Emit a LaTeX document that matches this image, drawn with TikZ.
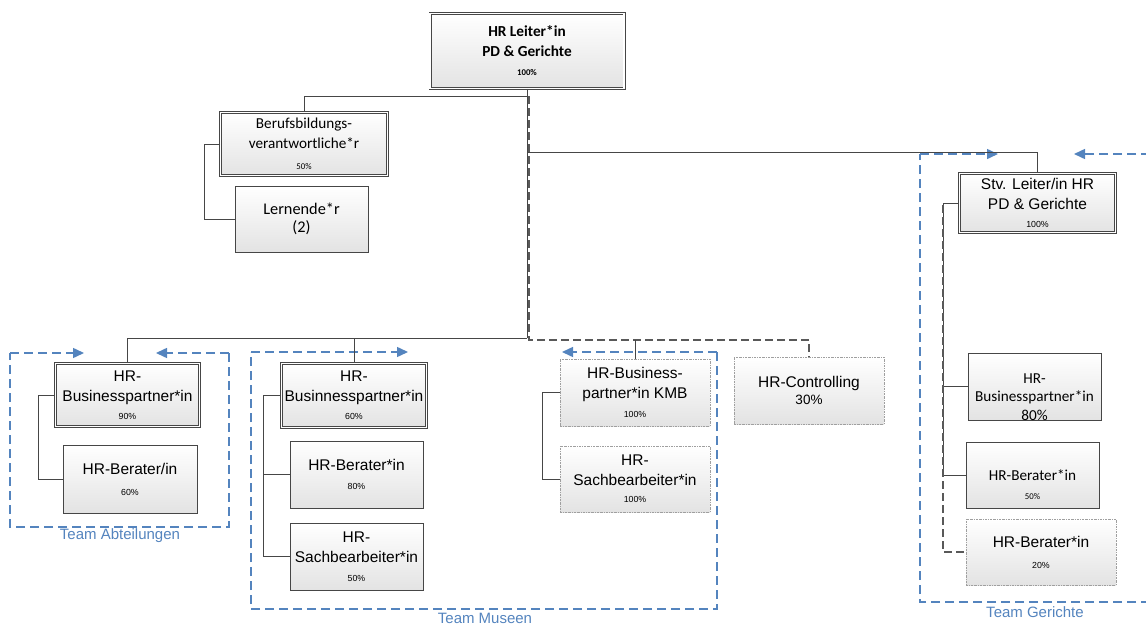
\documentclass[tikz,border=0pt]{standalone}
\usepackage{fontspec}
\setmainfont{Liberation Sans}
\newfontfamily\calfont{Carlito}
\usetikzlibrary{arrows.meta}
\definecolor{teamblue}{RGB}{84,132,190}
\definecolor{linegray}{RGB}{70,70,70}
\newcommand\pctx[1]{{\fontsize{8.8}{9}\selectfont #1}}

\tikzset{
  box/.style={draw=linegray, line width=0.8pt, top color=white, bottom color=black!11,
    align=center, inner sep=0pt, font=\fontsize{15.5}{20}\selectfont},
  dbox/.style={box, double=white, double distance=1.6pt, line width=0.7pt},
  vbox/.style={box, draw=gray!75, line width=0.7pt, dash pattern=on 2pt off 1pt on 0.6pt off 1pt},
  cal/.style={font=\calfont\fontsize{15.2}{20}\selectfont},
  conn/.style={draw=linegray, line width=0.8pt},
  dconn/.style={draw=linegray!90, line width=2pt, dash pattern=on 8pt off 4pt},
  team/.style={draw=teamblue, line width=1.5pt, dash pattern=on 9pt off 5pt},
  teamarr/.style={team, -{Triangle[length=11pt,width=10pt]}},
  teamlbl/.style={text=teamblue, font=\fontsize{15}{16}\selectfont},
  txt/.style={align=center, inner sep=0pt},
}

\begin{document}
\begin{tikzpicture}[x=1pt,y=-1pt]
\useasboundingbox (0,0) rectangle (1146,626);

% ---- boxes ----
\node[dbox, minimum width=194pt, minimum height=75pt,
      font=\calfont\bfseries\fontsize{15.3}{20}\selectfont] (top) at (527,51)
      {HR Leiter*in\\PD \& Gerichte\\[-1pt]\pctx{100\%}};
\node[dbox, cal, minimum width=167pt, minimum height=63pt] (beruf) at (304,144)
      {Berufsbildungs-\\verantwortliche*r\\[1pt]\pctx{50\%}};
\node[box, font=\calfont\fontsize{16.3}{18}\selectfont, minimum width=133pt, minimum height=66pt] (lern) at (301.5,219)
      {Lernende*r\\(2)};

\node[dbox, minimum width=156pt, minimum height=59pt] (stv) at (1037.5,203)
      {Stv. Leiter/in HR\\PD \& Gerichte\\[-2pt]\pctx{100\%}};
\node[box, minimum width=133pt, minimum height=67pt] (g1) at (1034.5,386.5) {};
\node[txt, font=\calfont\fontsize{15.2}{18.5}\selectfont] (g1t) at (1034.5,397)
      {HR-\\Businesspartner*in\\80\%};
\node[box, minimum width=133pt, minimum height=66pt] (g2) at (1032.5,475) {};
\node[txt, font=\calfont\fontsize{15.2}{20}\selectfont] (g2t) at (1032.5,485)
      {HR-Berater*in\\[-1pt]\pctx{50\%}};
\node[vbox, minimum width=150pt, minimum height=66pt] (g3) at (1041,552)
      {HR-Berater*in\\[1pt]\pctx{20\%}};

\node[dbox, minimum width=144pt, minimum height=63pt] (a1) at (127.5,395)
      {HR-\\Businesspartner*in\\[-2pt]\pctx{90\%}};
\node[box, minimum width=134pt, minimum height=68pt] (a2) at (130,479)
      {HR-Berater/in\\[1pt]\pctx{60\%}};

\node[dbox, minimum width=145pt, minimum height=64pt] (m1) at (354,395.5)
      {HR-\\Businnesspartner*in\\[-2pt]\pctx{60\%}};
\node[box, minimum width=133pt, minimum height=67pt] (m2) at (356.5,474.5)
      {HR-Berater*in\\[-1pt]\pctx{80\%}};
\node[box, minimum width=133pt, minimum height=67pt] (m3) at (356.5,556.5)
      {HR-\\Sachbearbeiter*in\\[-1pt]\pctx{50\%}};

\node[vbox, minimum width=150pt, minimum height=67pt] (k1) at (635,392.5)
      {HR-Business-\\partner*in KMB\\[-1pt]\pctx{100\%}};
\node[vbox, minimum width=150pt, minimum height=66pt] (k2) at (635,479)
      {HR-\\Sachbearbeiter*in\\[-3pt]\pctx{100\%}};
\node[vbox, minimum width=150pt, minimum height=67pt] (ctrl) at (809,390.5)
      {HR-Controlling\\[-3pt]{\fontsize{13.5}{14}\selectfont 30\%}};

% ---- team frames ----
\draw[team] (229,353) -- (229,527) -- (10,527) -- (10,353);
\draw[teamarr] (10,353) -- (84,353);
\draw[teamarr] (229,353) -- (156,353);
\node[teamlbl] (tA) at (120,536) {Team Abteilungen};

\draw[team] (717,352) -- (717,609) -- (251,609) -- (251,352);
\draw[teamarr] (251,352) -- (408,352);
\draw[teamarr] (717,352) -- (562,352);
\node[teamlbl] (tM) at (485,618) {Team Museen};

\draw[team] (1150,602) -- (920,602) -- (920,154);
\draw[teamarr] (920,154) -- (998,154);
\draw[teamarr] (1150,154) -- (1074,154);
\node[teamlbl] (tG) at (1035,612) {Team Gerichte};

% ---- reporting lines ----
\coordinate (hub) at (527,338);
\coordinate (bb) at (527,96);
\coordinate (sb) at (527,152);
\draw[conn] (top.south) -- (hub);
\draw[conn] (bb) -| (beruf.north);
\draw[conn] (sb) -| (stv.north);
\draw[conn] (hub) -| (a1.north);
\draw[conn] (hub) -| (m1.north);
\draw[conn] (beruf.west) -- ++(-16,0) |- (lern.west);
\draw[conn] (a1.west) -- ++(-17,0) |- (a2.west);
\draw[conn] (m1.west) -- ++(-18,0) |- (m3.west);
\draw[conn] (m1.west) ++(-18,0) |- (m2.west);
\draw[conn] (k1.west) -- ++(-17,0) |- (k2.west);
\draw[conn] (stv.west) -- ++(-16,0) |- (g2.west);
\draw[conn] (stv.west) ++(-16,0) |- (g1.west);

% ---- dashed (partial) reporting lines ----
\coordinate (dtop) at (529,96);
\coordinate (dturn) at (529,340);
\draw[dconn] (dtop) -- (dturn) -| (ctrl.north);
\draw[conn] (k1.north) -- (k1.north |- dturn);
\coordinate (gtop) at (943,205);
\draw[dconn] (gtop) |- (g3.west);
\end{tikzpicture}
\end{document}
